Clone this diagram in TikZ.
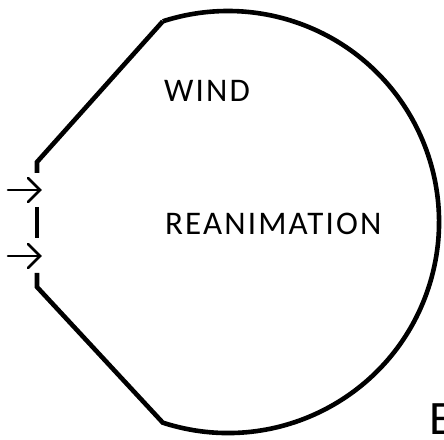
\documentclass[tikz,border=0pt]{standalone}
\usepackage{fontspec}
\setmainfont{Carlito}
\newfontfamily\spacedfont[LetterSpace=6.5]{Carlito}
\usetikzlibrary{calc}
\begin{document}
\begin{tikzpicture}[x=1pt,y=1pt,
  outline/.style={line width=4.6pt,line join=miter,line cap=butt},
  inarrow/.style={line width=2.6pt,line cap=round,line join=miter},
  label/.style={inner sep=0pt,anchor=base west,font=\fontsize{33}{33}\selectfont\spacedfont}]
\useasboundingbox (0,0) rectangle (444,439);
\clip (0,0) rectangle (444,439);
\coordinate (c) at (228,217);
\coordinate (top) at ($(c)+(108:211)$);
\coordinate (bot) at ($(c)+(-108:211)$);
\coordinate (l1) at (37,277);
\coordinate (l2) at (37,266);
\coordinate (m1) at (37,232);
\coordinate (m2) at (37,201);
\coordinate (l3) at (37,166);
\coordinate (l4) at (37,152);
\draw[outline] (top) -- (l1) -- (l2);
\draw[outline] (m1) -- (m2);
\draw[outline] (l3) -- (l4) -- (bot) arc[start angle=-108,end angle=108,radius=211];
% arrows
\coordinate (a1s) at (8,249);
\coordinate (a1e) at (40,249);
\coordinate (a2s) at (8,183);
\coordinate (a2e) at (40,183);
\draw[inarrow] (a1s) -- (a1e);
\draw[inarrow] (28,261) -- (a1e) -- (28,237);
\draw[inarrow] (a2s) -- (a2e);
\draw[inarrow] (28,195) -- (a2e) -- (28,171);
\node[label] (wind) at (164,337) {WIND};
\node[label] (rean) at (165,204) {REANIMATION};
\node[inner sep=0pt,anchor=base west,font=\fontsize{48}{48}\selectfont] (e) at (429,5) {E};
\end{tikzpicture}
\end{document}
